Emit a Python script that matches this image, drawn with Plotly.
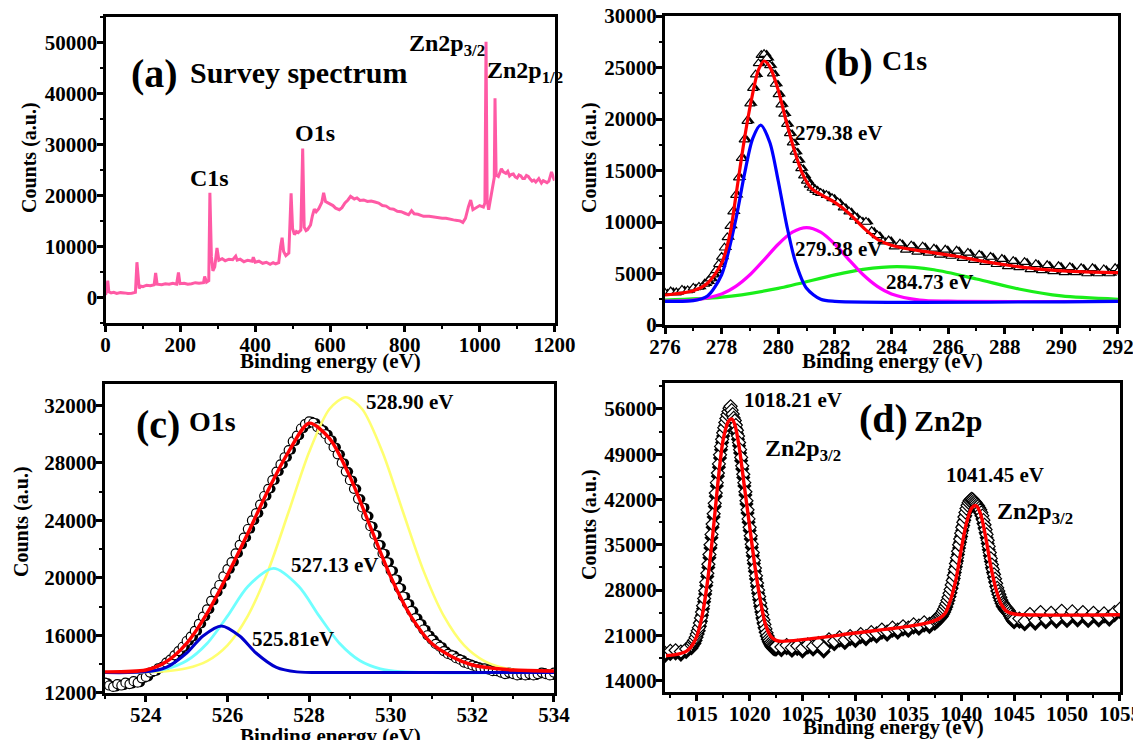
import numpy as np
import plotly.graph_objects as go

W, H = 1133, 740
FONT = "Liberation Serif"

# ---------------- (a) Survey spectrum ----------------
survey_x = [0, 3, 6, 9, 15, 22, 30, 40, 50, 60, 70, 80, 84, 87, 90, 95, 100, 110, 120, 130, 134,
            138, 150, 160, 170, 180, 190, 195, 199, 210, 220, 230, 240, 250, 262, 265, 270, 276,
            279, 283, 287, 292, 298, 303, 312, 320, 330, 340, 348, 352, 360, 370, 380, 392, 395,
            400, 410, 420, 430, 440, 448, 455, 463, 468, 472, 476, 482, 490, 496, 500, 505, 510,
            515, 522, 527, 531, 536, 540, 548, 553, 558, 563, 570, 578, 583, 588, 594, 600, 608,
            615, 625, 632, 640, 648, 655, 665, 672, 680, 690, 700, 710, 720, 730, 740, 750, 760,
            770, 780, 790, 800, 810, 818, 825, 835, 850, 865, 880, 890, 900, 910, 920, 930, 940,
            948, 955, 962, 970, 976, 982, 990, 1000, 1010, 1014, 1017, 1020, 1024, 1030, 1036,
            1039, 1041, 1044, 1050, 1058, 1063, 1070, 1075, 1080, 1085, 1090, 1095, 1100, 1105,
            1110, 1115, 1120, 1125, 1130, 1135, 1140, 1145, 1150, 1158, 1165, 1170, 1175, 1180,
            1185, 1192, 1197, 1200]
survey_y = [500, 1200, 3300, 1100, 900, 1000, 800, 950, 900, 800, 850, 1000, 6900, 3500, 1800,
            2200, 2100, 2400, 2300, 2500, 4800, 2600, 2500, 2700, 2600, 2800, 2600, 4900, 2700,
            2800, 2600, 2700, 2900, 2800, 2900, 4100, 3000, 3300, 20500, 8000, 5200, 6000, 9700,
            7300, 7600, 7200, 7500, 7400, 8100, 7300, 7500, 7000, 7300, 7100, 7900, 6900, 7100,
            6700, 6900, 6500, 6800, 6600, 6800, 10000, 11700, 9000, 8200, 8700, 20400, 13500,
            12300, 12900, 12700, 13200, 29200, 13800, 13100, 13300, 14200, 16000, 17300, 16800,
            17400, 18600, 20500, 18800, 18600, 18300, 18000, 17500, 17200, 17600, 18500, 19100,
            19800, 19300, 19500, 19000, 19100, 18800, 18900, 18700, 18500, 18000, 17900, 17400,
            17300, 16900, 16800, 16500, 16200, 17000, 16400, 16300, 15900, 15900, 15700, 15600,
            15500, 15500, 15300, 15200, 15100, 15000, 14700, 15500, 17800, 19100, 17200, 17600,
            18000, 17700, 18500, 50100, 19000, 17200, 19500, 22000, 23500, 39000, 24000, 23700,
            25200, 24600, 24300, 24700, 23800, 24100, 24200, 23600, 23400, 24000, 23800, 23300,
            23300, 23900, 23700, 23200, 22800, 23000, 22600, 23300, 22400, 22900, 22700, 22500,
            22800, 24600, 23500, 22900]

# ---------------- (b) C1s ----------------
c1s_x = np.round(np.concatenate([np.arange(276.0, 277.41, 0.2), np.arange(277.5, 281.51, 0.1),
                                 np.arange(281.7, 291.91, 0.2), [292.0]]), 2)
c1s_y = [3100, 3250, 3150, 3400, 3350, 3600, 3700, 4000,
         4200, 4500, 4900, 5300, 5900,
         6600, 7500, 8500, 9600, 11000, 12600, 14300, 16200, 18000, 19800,
         21500, 23000, 24300, 25400, 26200, 26300, 25900, 25200, 24400, 23400,
         22400, 21400, 20500, 19500, 18600, 17700, 16800, 16000, 15200, 14500,
         14000, 13600, 13300, 13100, 12900, 12800,
         12600, 12300, 11900, 11400, 11000, 10500, 10100, 10000, 9100, 8700,
         8100, 8200, 7600, 7900, 7300, 7700, 7100, 7600, 7000, 7400,
         6800, 7300, 6700, 7200, 6500, 7000, 6300, 6800, 6100, 6600,
         5900, 6400, 5700, 6200, 5600, 6100, 5400, 5900, 5300, 5800,
         5200, 5700, 5100, 5600, 5100, 5500, 5000, 5500, 5000, 5400,
         5000, 5500, 5200]
c1s_fit_x = [276, 277, 277.5, 278, 278.3, 278.5, 278.8, 279.05, 279.3, 279.5, 279.7, 280, 280.27,
             280.53, 280.85, 281.17, 281.6, 282, 282.5, 283.03, 283.55, 284.2, 285.2, 286.25,
             287.3, 288.3, 289.3, 290.6, 292]
c1s_fit_y = [2910, 3330, 4050, 5990, 8900, 12460, 17960, 21840, 24760, 25630, 25080, 22800,
             19900, 17310, 14720, 13270, 12520, 11910, 10840, 9390, 8250, 7600, 7120, 6700,
             6150, 5730, 5400, 5180, 5080]
c1s_p1_x = [276, 277, 277.5, 278, 278.5, 278.8, 279.1, 279.38, 279.7, 280, 280.3, 280.6, 281,
            281.5, 282, 292]
c1s_p1_y = [2300, 2360, 2815, 4880, 10235, 14550, 18120, 19400, 17750, 13980, 9680, 6200, 3570,
            2500, 2300, 2300]
c1s_p2_x = [276, 277, 278, 278.5, 279, 279.5, 280, 280.5, 281, 281.5, 282, 282.5, 283, 283.5,
            284, 285, 286, 292]
c1s_p2_y = [2310, 2420, 3015, 3750, 4875, 6330, 7840, 9010, 9450, 9010, 7840, 6330, 4875, 3750,
            3015, 2420, 2310, 2300]
c1s_p3_x = [276, 278, 280, 282, 283, 284.2, 285.5, 287, 288.5, 290, 292]
c1s_p3_y = [2420, 2700, 3560, 4870, 5400, 5660, 5360, 4470, 3500, 2820, 2500]

# ---------------- (c) O1s ----------------
o1s_x = np.round(np.arange(523.0, 534.01, 0.1), 1)
o1s_y = [12700, 12500, 12400, 12600, 12500, 12700, 12600, 12800, 12700, 13000,
         13100, 13400, 13500, 13700, 13800, 14100, 14300, 14600, 14900, 15200,
         15600, 15900, 16300, 16800, 17300, 17800, 18400, 19000, 19500, 20100,
         20600, 21100, 21700, 22300, 22800, 23400, 24000, 24500, 25100, 25700,
         26200, 26800, 27400, 27900, 28400, 28900, 29500, 29900, 30400, 30700,
         30900, 30800, 30500, 30300, 30000, 29600, 29100, 28600, 28000, 27400,
         26800, 26200, 25500, 24900, 24300, 23600, 23000, 22300, 21700, 21100,
         20500, 19900, 19300, 18700, 18200, 17700, 17200, 16800, 16400, 16000,
         15700, 15400, 15200, 14900, 14700, 14600, 14400, 14300, 14100, 14000,
         13900, 13800, 13700, 13700, 13600, 13500, 13500, 13400, 13300, 13400,
         13300, 13200, 13300, 13200, 13300, 13200, 13300, 13400, 13300, 13200,
         13400]
o1s_fit_x = [523, 524, 524.5, 525, 525.5, 526, 526.5, 527, 527.5, 528, 528.5, 529, 529.5, 530,
             530.5, 531, 531.5, 532, 532.5, 533, 534]
o1s_fit_y = [13450, 13580, 14160, 15440, 17530, 20200, 23100, 26120, 28790, 30770, 29720, 27050,
             23570, 20080, 17300, 15440, 14510, 13930, 13700, 13580, 13510]
o1s_p1_x = [523, 524, 524.5, 525, 525.4, 525.85, 526.3, 526.7, 527.2, 527.7, 528.5, 534]
o1s_p1_y = [13400, 13450, 13765, 14765, 15950, 16650, 15950, 14765, 13765, 13450, 13400, 13400]
o1s_p2_x = [523, 524, 524.5, 525, 525.5, 526, 526.5, 527.13, 527.75, 528.25, 528.75, 529.25,
            529.75, 530.25, 531, 534]
o1s_p2_y = [13400, 13465, 13660, 14220, 15425, 17330, 19400, 20660, 19400, 17330, 15425, 14220,
            13660, 13465, 13400, 13400]
o1s_p3_x = [523, 524, 524.5, 525, 525.5, 526, 526.5, 527, 527.5, 528, 528.5, 528.9, 529.3,
            529.8, 530.3, 530.8, 531.3, 531.8, 532.3, 532.8, 533.3, 534]
o1s_p3_y = [13400, 13430, 13500, 13700, 14200, 15300, 17350, 20520, 24600, 28750, 31760, 32580,
            31760, 28750, 24600, 20520, 17350, 15300, 14200, 13700, 13500, 13430]

# ---------------- (d) Zn2p ----------------
zn_x = np.round(np.concatenate([np.arange(1012.0, 1014.51, 0.5), np.arange(1014.6, 1022.51, 0.1),
                                np.arange(1023.0, 1037.51, 0.5), np.arange(1037.6, 1045.01, 0.1),
                                np.arange(1045.5, 1055.01, 0.5)]), 2)
zn_y = [18300, 18600, 18700, 18500, 18900, 19500,
        19800, 20100, 20300, 20700,
        21200, 21700, 22200, 22900, 23700, 24600, 25600, 26700, 27900, 29200,
        30600, 32000, 33500, 35000, 36600, 38200, 39800, 41400, 43000, 44600,
        46100, 47500, 48900, 50200, 51300, 52300, 53100, 53900, 54500, 55100,
        55600, 56100, 56400, 55800, 55200, 54600, 54200, 53500, 52700, 51800,
        50800, 49700, 48500, 47200, 45900, 44600, 43200, 41800, 40400, 39000,
        37700, 36400, 35100, 33800, 32600, 31400, 30200, 29100, 28000, 27000,
        26000, 25100, 24200, 23400, 22700, 22000, 21400, 20900, 20500, 20200,
        19900, 19700, 19500, 19400, 19300, 19300,
        19200, 19500, 19100, 19400, 19000, 19600, 19300, 19800, 19000, 20400,
        20100, 20700, 20300, 20900, 20600, 21200, 20900, 21500, 21300, 21900,
        21600, 22200, 21900, 22400, 22200, 22700, 22500, 23000, 22800, 23300,
        23500, 23600, 23800, 24000,
        24100, 24300, 24500, 24800, 25100, 25500, 25900, 26400, 26900, 27500,
        28100, 28800, 29500, 30300, 31200, 32100, 33000, 34000, 35000, 35900,
        36800, 37700, 38500, 39300, 40000, 40600, 41100, 41500, 41800, 42000,
        42100, 42000, 41800, 41600, 41400, 41200, 41000, 40700, 40400, 40000,
        39500, 38800, 38100, 37350, 36600, 35700, 34750, 33800, 32900, 31950,
        31200, 30450, 29750, 29050, 28350, 27850, 27350, 26900, 26450, 26050,
        25800, 25550, 25350, 25200, 25000, 24800, 24500, 24200, 23900, 23700,
        23500,
        23600, 23200, 24300, 23300, 24600, 23500, 24500, 23600, 24800, 23700,
        24700, 23800, 24600, 23700, 24500, 23800, 24400, 23900, 24600, 25100]
zn_fit_x = [1012.1, 1013, 1014, 1014.5, 1015, 1015.5, 1016, 1016.5, 1017, 1017.5, 1018, 1018.3,
            1018.6, 1019, 1019.5, 1020, 1020.5, 1021, 1021.5, 1022, 1022.5, 1023, 1025, 1030,
            1035, 1037, 1038, 1038.5, 1039, 1039.5, 1040, 1040.5, 1041, 1041.4, 1041.8, 1042.3,
            1042.8, 1043.3, 1043.8, 1044.3, 1045, 1047, 1055]
zn_fit_y = [17865, 18020, 18530, 19300, 20850, 23950, 29100, 36300, 44560, 51260, 54090, 54450,
            53580, 50230, 44040, 37860, 31670, 26520, 22660, 20850, 20235, 20080, 20340, 21370,
            22400, 23020, 23690, 24460, 26520, 29610, 34250, 38370, 40690, 41050, 39920, 36310,
            31670, 28070, 25750, 24720, 24300, 24150, 24200]

# tick values
a_xticks = [0, 200, 400, 600, 800, 1000, 1200]
a_yticks = [0, 10000, 20000, 30000, 40000, 50000]
b_xticks = [276, 278, 280, 282, 284, 286, 288, 290, 292]
b_yticks = [0, 5000, 10000, 15000, 20000, 25000, 30000]
c_xticks = [524, 526, 528, 530, 532, 534]
c_yticks = [12000, 16000, 20000, 24000, 28000, 32000]
d_xticks = [1015, 1020, 1025, 1030, 1035, 1040, 1045, 1050, 1055]
d_yticks = [14000, 21000, 28000, 35000, 42000, 49000, 56000]


# ---------------- layout helpers ----------------
def px(x):
    return x / W


def py(y):
    return 1 - y / H


fig = go.Figure()

# (a)
fig.add_trace(go.Scatter(x=survey_x, y=survey_y, mode="lines",
                         line=dict(color="#FF5AA5", width=3), xaxis="x", yaxis="y"))

# (b) half-filled triangles
c1s_arr = np.array(c1s_y, dtype=float)
fig.add_trace(go.Scatter(x=c1s_x + 0.09, y=c1s_arr, mode="markers", xaxis="x2", yaxis="y2",
                         marker=dict(symbol="triangle-up", size=9, color="black")))
fig.add_trace(go.Scatter(x=c1s_x, y=c1s_arr, mode="markers", xaxis="x2", yaxis="y2",
                         marker=dict(symbol="triangle-up", size=9, color="white",
                                     line=dict(color="black", width=1.2))))
for xs, ys, col in [(c1s_p3_x, c1s_p3_y, "#19EE19"), (c1s_p2_x, c1s_p2_y, "#FF00FF"),
                    (c1s_p1_x, c1s_p1_y, "#0000FF"), (c1s_fit_x, c1s_fit_y, "#FF0000")]:
    fig.add_trace(go.Scatter(x=xs, y=ys, mode="lines", xaxis="x2", yaxis="y2",
                             line=dict(color=col, width=3.2, shape="spline", smoothing=0.8)))

# (c) half-filled circles
fig.add_trace(go.Scatter(x=o1s_x + 0.07, y=o1s_y, mode="markers", xaxis="x3", yaxis="y3",
                         marker=dict(symbol="circle", size=9, color="black")))
fig.add_trace(go.Scatter(x=o1s_x, y=o1s_y, mode="markers", xaxis="x3", yaxis="y3",
                         marker=dict(symbol="circle", size=9, color="white",
                                     line=dict(color="black", width=1.2))))
for xs, ys, col, w in [(o1s_p3_x, o1s_p3_y, "#FFFF70", 2.6), (o1s_p2_x, o1s_p2_y, "#6FFFFF", 2.8),
                       (o1s_p1_x, o1s_p1_y, "#0000CC", 3.0), (o1s_fit_x, o1s_fit_y, "#FF0000", 3.4)]:
    fig.add_trace(go.Scatter(x=xs, y=ys, mode="lines", xaxis="x3", yaxis="y3",
                             line=dict(color=col, width=w, shape="spline", smoothing=0.8)))

# (d) half-filled diamonds
zn_arr = np.array(zn_y, dtype=float)
fig.add_trace(go.Scatter(x=zn_x, y=zn_arr - 500, mode="markers", xaxis="x4", yaxis="y4",
                         marker=dict(symbol="diamond", size=11, color="black")))
fig.add_trace(go.Scatter(x=zn_x, y=zn_arr, mode="markers", xaxis="x4", yaxis="y4",
                         marker=dict(symbol="diamond", size=10, color="white",
                                     line=dict(color="black", width=1.2))))
fig.add_trace(go.Scatter(x=zn_fit_x, y=zn_fit_y, mode="lines", xaxis="x4", yaxis="y4",
                         line=dict(color="#FF0000", width=3.4, shape="spline", smoothing=0.8)))

tickfont = dict(family=FONT, size=21, color="black")


def axis(domain, rng, anchor, majors, step):
    minors = [v + step / 2 for v in majors[:-1]]
    if majors[0] - step / 2 >= rng[0]:
        minors = [majors[0] - step / 2] + minors
    if majors[-1] + step / 2 <= rng[1]:
        minors = minors + [majors[-1] + step / 2]
    return dict(domain=domain, range=rng, anchor=anchor, showline=True, linecolor="black",
                linewidth=3, mirror=True, ticks="outside", ticklen=6, tickwidth=2.5,
                tickcolor="black", showgrid=False, zeroline=False, tickfont=tickfont,
                tickmode="array", tickvals=majors, ticklabeloverflow="allow",
                ticklabelstandoff=-5,
                ticktext=["<b>%d</b>" % v for v in majors], automargin=False,
                minor=dict(ticks="outside", ticklen=3, tickwidth=2, tickcolor="black",
                           tickmode="array", tickvals=minors, showgrid=False))


fig.update_layout(
    width=W, height=H, margin=dict(l=0, r=0, t=0, b=0),
    font=dict(family=FONT, color="black"),
    paper_bgcolor="white", plot_bgcolor="white", showlegend=False,
    xaxis=axis([px(105.5), px(554.5)], [0, 1200], "y", a_xticks, 200),
    yaxis=axis([py(323), py(16.7)], [-5000, 55000], "x", a_yticks, 10000),
    xaxis2=axis([px(665), px(1118)], [276, 292.001], "y2", b_xticks, 2),
    yaxis2=axis([py(325), py(16)], [0, 30000], "x2", b_yticks, 5000),
    xaxis3=axis([px(105), px(554)], [523, 534.001], "y3", c_xticks, 2),
    yaxis3=axis([py(692.7), py(384)], [12000, 33500], "x3", c_yticks, 4000),
    xaxis4=axis([px(665), px(1120)], [1012, 1055.01], "y4", d_xticks, 5),
    yaxis4=axis([py(691.7), py(383)], [12300, 60000], "x4", d_yticks, 7000),
)


def ann(text, x, y, size, xanchor="center", angle=0):
    return dict(text="<b>" + text + "</b>", x=px(x), y=py(y), xref="paper", yref="paper",
                xanchor=xanchor, yanchor="middle", showarrow=False, textangle=angle,
                font=dict(family=FONT, size=size, color="black"))


anns = [
    # axis titles
    ann("Counts (a.u.)", 29, 158, 20, angle=-90),
    ann("Counts (a.u.)", 589, 158, 20, angle=-90),
    ann("Counts (a.u.)", 21, 522, 20, angle=-90),
    ann("Counts (a.u.)", 589, 525, 20, angle=-90),
    ann("Binding energy (eV)", 330, 361, 21),
    ann("Binding energy (eV)", 892, 361, 21),
    ann("Binding energy (eV)", 330, 736, 21),
    ann("Binding energy (eV)", 893, 727, 21),
    # (a)
    ann("(a)", 154, 73, 40),
    ann("Survey spectrum", 298, 72, 30),
    ann("C1s", 209, 178, 24),
    ann("O1s", 315, 133, 24),
    ann("Zn2p<sub>3/2</sub>", 407, 45, 24, xanchor="left"),
    ann("Zn2p<sub>1/2</sub>", 485, 72, 24, xanchor="left"),
    # (b)
    ann("(b)", 848, 62, 40),
    ann("C1s", 905, 60, 28),
    ann("279.38 eV", 839, 133, 21),
    ann("279.38 eV", 839, 249, 21),
    ann("284.73 eV", 930, 282, 21),
    # (c)
    ann("(c)", 158, 424, 40),
    ann("O1s", 212, 422, 28),
    ann("528.90 eV", 410, 402, 21),
    ann("527.13 eV", 335, 565, 21),
    ann("525.81eV", 293, 639, 21),
    # (d)
    ann("1018.21 eV", 793, 400, 21),
    ann("(d)", 884, 418, 40),
    ann("Zn2p", 948, 420, 30),
    ann("Zn2p<sub>3/2</sub>", 763, 450, 24, xanchor="left"),
    ann("1041.45 eV", 995, 475, 21),
    ann("Zn2p<sub>3/2</sub>", 995, 513, 24, xanchor="left"),
]
fig.update_layout(annotations=anns)

fig.write_html("out.html", config={"displayModeBar": False},
               post_script="document.body.style.margin='0';document.body.style.overflow='hidden';")
